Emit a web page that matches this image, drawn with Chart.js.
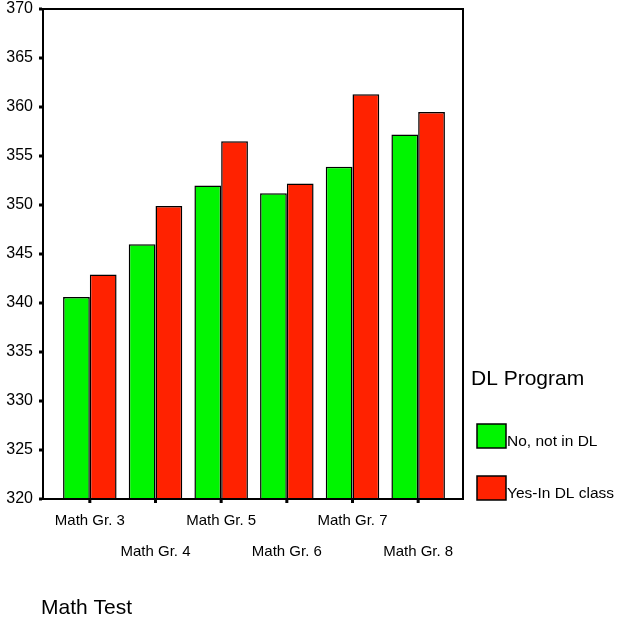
<!DOCTYPE html>
<html>
<head>
<meta charset="utf-8">
<script src="https://cdn.jsdelivr.net/npm/chart.js@4/dist/chart.umd.min.js"></script>
<style>
  body { margin: 0; background: #fff; }
  #wrap { width: 619px; height: 621px; }
</style>
</head>
<body>
<div id="wrap"><canvas id="barChart" width="619" height="621"></canvas></div>
<script>
// chart data
const grades = [
    ['Math Gr. 3', ''], ['', 'Math Gr. 4'],
    ['Math Gr. 5', ''], ['', 'Math Gr. 6'],
    ['Math Gr. 7', ''], ['', 'Math Gr. 8']
];
const notInDL = [340.6, 346.0, 352.0, 351.2, 353.9, 357.2];
const inDL = [342.9, 349.9, 356.5, 352.2, 361.3, 359.5];
const seriesNames = ['No, not in DL', 'Yes-In DL class'];
const yMin = 320, yMax = 370, yStep = 5;

const GREEN = '#00f500';
const RED = '#ff2200';
const FONT = "'Liberation Sans', Arial, sans-serif";

// frame, tick marks, legend and axis title drawn around the chart area
const framePlugin = {
    id: 'frame',
    afterDraw(chart) {
        const ctx = chart.ctx;
        const a = chart.chartArea;
        const x = chart.scales.x, y = chart.scales.y;
        const left = a.left - 14, right = a.right + 12;

        ctx.save();
        ctx.strokeStyle = '#000';
        ctx.lineWidth = 2;
        ctx.strokeRect(left, a.top, right - left, a.bottom - a.top);

        ctx.fillStyle = '#000';
        y.ticks.forEach(t => {
            const py = y.getPixelForValue(t.value);
            ctx.fillRect(left - 4, py - 1.5, 3, 3);
        });
        grades.forEach((g, i) => {
            const px = x.getPixelForValue(i);
            ctx.fillRect(px - 1.5, a.bottom + 1, 3, 3);
        });

        // legend
        const lx = right + 8;
        ctx.textBaseline = 'middle';
        ctx.textAlign = 'left';
        ctx.font = '21px ' + FONT;
        ctx.fillText('DL Program', lx, 379);
        ctx.font = '15.5px ' + FONT;
        chart.data.datasets.forEach((ds, i) => {
            const by = 424 + i * 52;
            ctx.fillStyle = ds.backgroundColor;
            ctx.fillRect(lx + 6, by, 29, 24);
            ctx.lineWidth = 1.5;
            ctx.strokeRect(lx + 6, by, 29, 24);
            ctx.fillStyle = '#000';
            ctx.fillText(ds.label, lx + 36, by + 18);
        });

        // x axis title
        ctx.font = '21px ' + FONT;
        ctx.fillText('Math Test', left - 2, 608);
        ctx.restore();
    }
};

const barChartCtx = document.getElementById('barChart').getContext('2d');
const barChart = new Chart(barChartCtx, {
    type: 'bar',
    data: {
        labels: grades,
        datasets: [{
            label: seriesNames[0],
            data: notInDL,
            backgroundColor: GREEN,
            borderColor: '#000',
            borderWidth: 1.5,
            categoryPercentage: 0.815,
            barPercentage: 1.0
        }, {
            label: seriesNames[1],
            data: inDL,
            backgroundColor: RED,
            borderColor: '#000',
            borderWidth: 1.5,
            categoryPercentage: 0.815,
            barPercentage: 1.0
        }]
    },
    options: {
        responsive: false,
        animation: false,
        layout: { padding: { top: 9, right: 168, bottom: 0, left: 0 } },
        plugins: {
            legend: { display: false },
            tooltip: { enabled: false }
        },
        scales: {
            x: {
                grid: { display: false, drawTicks: false },
                border: { display: false },
                ticks: {
                    color: '#000',
                    font: { family: FONT, size: 15, lineHeight: 2.1 },
                    padding: 6,
                    maxRotation: 0,
                    autoSkip: false
                },
                afterFit(scale) {
                    scale.height = 122;
                    scale.paddingLeft = 0;
                    scale.paddingRight = 0;
                }
            },
            y: {
                min: yMin,
                max: yMax,
                grid: { display: false, drawTicks: false },
                border: { display: false },
                ticks: {
                    stepSize: yStep,
                    color: '#000',
                    font: { family: FONT, size: 16 },
                    padding: 24
                },
                afterFit(scale) {
                    scale.width = 57;
                    scale.paddingTop = 0;
                    scale.paddingBottom = 0;
                }
            }
        }
    },
    plugins: [framePlugin]
});
</script>
</body>
</html>
